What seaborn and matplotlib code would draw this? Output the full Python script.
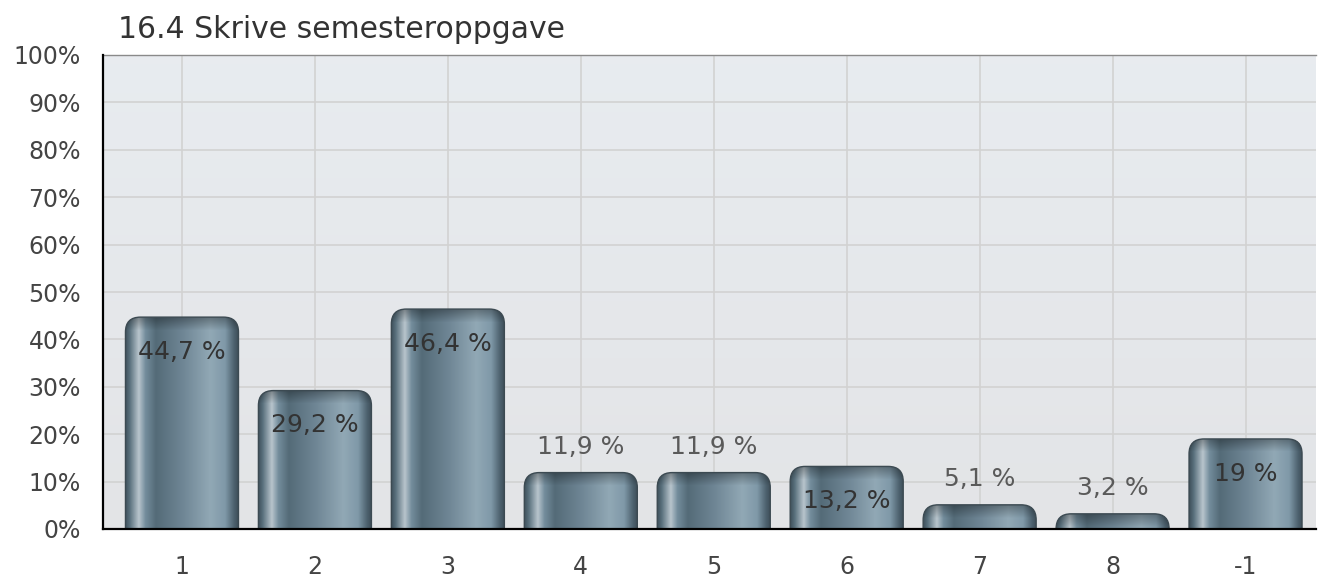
import numpy as np
import matplotlib
matplotlib.use("Agg")
import matplotlib.pyplot as plt
from matplotlib.patches import FancyBboxPatch
import seaborn as sns

# chart data
categories = ["1", "2", "3", "4", "5", "6", "7", "8", "-1"]
percent = [44.7, 29.2, 46.4, 11.9, 11.9, 13.2, 5.1, 3.2, 19.0]
yticks = list(range(0, 101, 10))
title = "16.4 Skrive semesteroppgave"

sns.set_style("white")
plt.rcParams["font.family"] = ["DejaVu Sans"]

W, H = 1318, 577
fig = plt.figure(figsize=(W / 100, H / 100), dpi=100)
ax = fig.add_axes([103 / W, 48 / H, 1213 / W, 474 / H])

ax = sns.barplot(x=categories, y=percent, order=categories, width=0.85,
                 color="#6f8795", ax=ax, zorder=2)
ax.set_xlim(-0.594, 8.53)
ax.set_ylim(0, 100)

# background: soft vertical gradient
bg = np.linspace(0, 1, 50)[:, None]
top_c = np.array([0.91, 0.925, 0.94])
bot_c = np.array([0.89, 0.895, 0.905])
bg_img = top_c * (1 - bg[..., None]) + bot_c * bg[..., None]
ax.imshow(bg_img, extent=[0, 1, 0, 1], transform=ax.transAxes,
          aspect="auto", zorder=0, origin="upper")

ax.set_axisbelow(True)
ax.grid(True, color="#d2d2d2", linewidth=1.2, zorder=1)

# pixels per data unit, used for the rounded caps
px_x = 1213 / (8.53 + 0.594)
px_y = 474 / 100.0
rad_px = 15
rx = rad_px / px_x
aspect = (rad_px / px_y) / rx

# horizontal shading profile of a "cylinder" bar
hx = [0.0, 0.04, 0.12, 0.18, 0.27, 0.5, 0.75, 0.88, 0.96, 1.0]
hc = np.array([
    [0.24, 0.31, 0.35],
    [0.35, 0.44, 0.49],
    [0.72, 0.77, 0.80],
    [0.45, 0.55, 0.61],
    [0.33, 0.42, 0.47],
    [0.43, 0.52, 0.58],
    [0.57, 0.66, 0.71],
    [0.50, 0.60, 0.66],
    [0.30, 0.38, 0.43],
    [0.24, 0.30, 0.34],
])
xs = np.linspace(0, 1, 240)
row = np.stack([np.interp(xs, hx, hc[:, k]) for k in range(3)], axis=-1)

for p, v in zip(ax.patches, percent):
    x0, w = p.get_x(), p.get_width()
    p.set_visible(False)
    hpx = max(int(v * px_y), 2)
    ys = np.arange(hpx)
    # darker rim at the top of the bar
    shade = 1 - 0.32 * np.clip(1 - ys / 13.0, 0, 1)
    img = row[None, :, :] * shade[:, None, None]
    box = FancyBboxPatch((x0, -10), w, v + 10,
                         boxstyle=f"round,pad=0,rounding_size={rx}",
                         mutation_aspect=aspect, facecolor="none",
                         edgecolor="#3c4a52", linewidth=1.0, zorder=4)
    ax.add_patch(box)
    im = ax.imshow(np.clip(img, 0, 1), extent=[x0, x0 + w, 0, v],
                   aspect="auto", origin="upper", zorder=3)
    im.set_clip_path(box)

    lab = ("%g" % v).replace(".", ",") + " %"
    if v >= 12.5:
        ax.text(x0 + w / 2, v - 7.3, lab, ha="center", va="center",
                fontsize=18, color="#333333", zorder=5)
    else:
        ax.text(x0 + w / 2, v + 5.5, lab, ha="center", va="center",
                fontsize=18, color="#5a5a5a", zorder=5)

ax.set_xlim(-0.594, 8.53)
ax.set_ylim(0, 100)
ax.set_yticks(yticks)
ax.set_yticklabels([f"{t}%" for t in yticks])
ax.set_xlabel("")
ax.set_ylabel("")
ax.tick_params(axis="both", direction="out", length=8, width=1.5,
               color="black", labelsize=17, labelcolor="#444444")
ax.tick_params(axis="y", pad=8)
ax.tick_params(axis="x", pad=11)

for s in ["left", "bottom"]:
    ax.spines[s].set_color("black")
    ax.spines[s].set_linewidth(1.6)
    ax.spines[s].set_zorder(6)
ax.spines["top"].set_color("#8a8a8a")
ax.spines["top"].set_linewidth(1.0)
ax.spines["right"].set_visible(False)

ax.text(0.0124, 1 + 17 / 474, title, transform=ax.transAxes,
        fontsize=21.5, color="#333333", va="baseline", ha="left")

fig.savefig("out.png", dpi=100)
